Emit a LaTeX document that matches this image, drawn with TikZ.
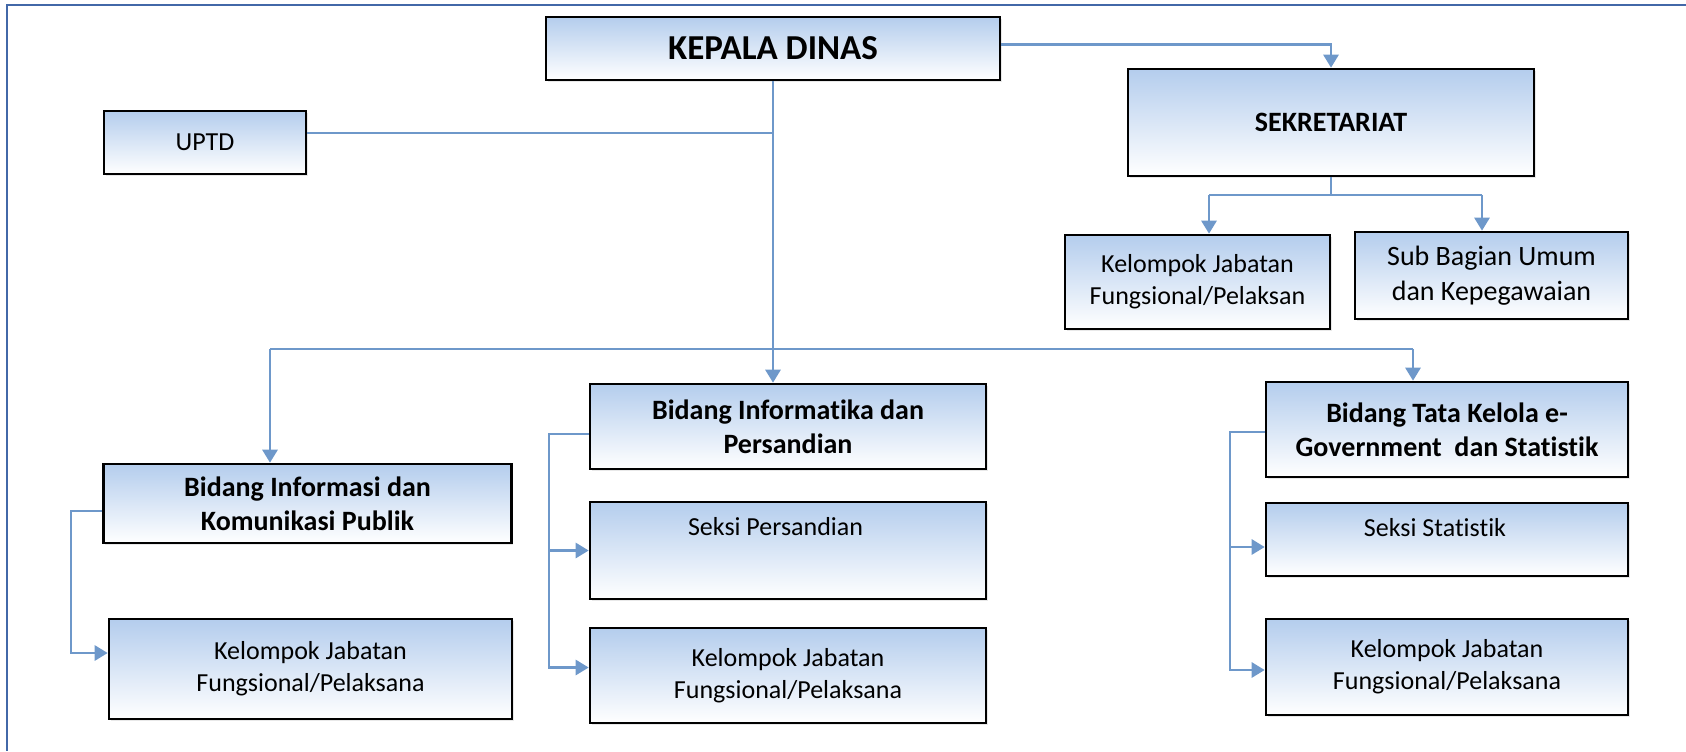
\documentclass[tikz,border=0pt]{standalone}
\usepackage{fontspec}
\setmainfont{Carlito}[Ligatures=NoCommon]
\usetikzlibrary{arrows.meta,shadows}

\definecolor{frameblue}{RGB}{66,104,168}
\definecolor{linkblue}{RGB}{110,152,202}
\definecolor{boxtop}{RGB}{180,205,237}

\begin{document}
\begin{tikzpicture}[x=0.5pt, y=-0.5pt,
    unit/.style={draw=black, line width=1.3pt, top color=boxtop, bottom color=white,
        drop shadow={shadow xshift=0.8pt, shadow yshift=-0.8pt, opacity=0.18},
        inner sep=0pt, align=center, font=\fontsize{13}{15.9}\selectfont},
    head/.style={unit, font=\fontsize{14}{17.1}\selectfont\bfseries},
    link/.style={draw=linkblue, line width=1.4pt},
    arr/.style={link, -{Triangle[length=6.5pt,width=7.5pt]}}]
    \useasboundingbox (0,0) rectangle (1686,751);

    % Outer frame (only top and left edges visible)
    \draw[frameblue, line width=1.2pt] (1686,5) -- (7,5) -- (7,751);

    % Top level
    \node[head, font=\fontsize{17.5}{21}\selectfont\bfseries, minimum width=227pt, minimum height=31.5pt] (kepala) at (773,48.5) {KEPALA DINAS};
    \node[unit, minimum width=101pt, minimum height=31.5pt] (uptd) at (205,142.5) {UPTD};
    \node[head, minimum width=203pt, minimum height=53.5pt] (sekre) at (1331,122.5) {SEKRETARIAT};

    % Under the secretariat
    \node[unit, minimum width=132.5pt, minimum height=47pt] (sekjab) at (1197.5,282) {Kelompok Jabatan\\Fungsional/Pelaksan};
    \node[unit, font=\fontsize{14}{17.3}\selectfont, minimum width=136.5pt, minimum height=43.5pt] (subbag) at (1491.5,275.5) {Sub Bagian Umum\\dan Kepegawaian};

    % First field
    \node[head, minimum width=204pt, minimum height=39.5pt] (infokom) at (307.5,503.5) {Bidang Informasi dan\\Komunikasi Publik};
    \node[unit, minimum width=201.5pt, minimum height=50pt] (infojab) at (310.5,669) {Kelompok Jabatan\\Fungsional/Pelaksana};

    % Second field
    \node[head, minimum width=198pt, minimum height=42.5pt] (sandi) at (788,426.5) {Bidang Informatika dan\\Persandian};
    \node[unit, text depth=24pt, minimum width=198pt, minimum height=48.5pt] (seksandi) at (788,550.5) {Seksi Persandian\hspace*{12.5pt}\mbox{}};
    \node[unit, minimum width=198pt, minimum height=47.5pt] (sandijab) at (788,675.5) {Kelompok Jabatan\\Fungsional/Pelaksana};

    % Third field
    \node[head, minimum width=181pt, minimum height=47.5pt] (tata) at (1447,429.5) {Bidang Tata Kelola e-\\Government\ \ dan Statistik};
    \node[unit, text depth=12pt, minimum width=181pt, minimum height=36.5pt] (sekstat) at (1447,539.5) {Seksi Statistik\hspace*{12pt}\mbox{}};
    \node[unit, minimum width=181pt, minimum height=48pt] (tatajab) at (1447,667) {Kelompok Jabatan\\Fungsional/Pelaksana};

    % Junctions
    \coordinate (hub) at (774,133);
    \coordinate (leftend) at (270,349);
    \coordinate (rightend) at (1413,349);
    \coordinate (sekleft) at (1209,195);
    \coordinate (sekright) at (1482,195);
    \coordinate (infobus) at (71,511);
    \coordinate (sandibus) at (549,434);
    \coordinate (tatabus) at (1230,432);

    % Kepala to sekretariat and UPTD
    \draw[arr] ([yshift=2pt]kepala.east) -| (sekre.north);
    \draw[link] (uptd.east |- hub) -- (hub);

    % Trunk and the three fields
    \draw[arr] (kepala.south) -- (kepala.south |- sandi.north);
    \draw[link] (leftend) -- (rightend);
    \draw[arr] (leftend) -- (leftend |- infokom.north);
    \draw[arr] (rightend) -- (rightend |- tata.north);

    % Sekretariat branches
    \draw[link] (sekre.south) -- (sekre.south |- sekleft);
    \draw[link] (sekleft) -- (sekright);
    \draw[arr] (sekleft) -- (sekleft |- sekjab.north);
    \draw[arr] (sekright) -- (sekright |- subbag.north);

    % Side buses
    \draw[arr] (infokom.west |- infobus) -- (infobus) |- ([yshift=8pt]infojab.west);
    \draw[arr] (sandi.west |- sandibus) -- (sandibus) |- ([yshift=4pt]sandijab.west);
    \draw[arr] (sandibus |- seksandi.west) -- (seksandi.west);
    \draw[arr] (tata.west |- tatabus) -- (tatabus) |- ([yshift=-1.5pt]tatajab.west);
    \draw[arr] (tatabus |- 0,547) -- (sekstat.west |- 0,547);
\end{tikzpicture}
\end{document}
